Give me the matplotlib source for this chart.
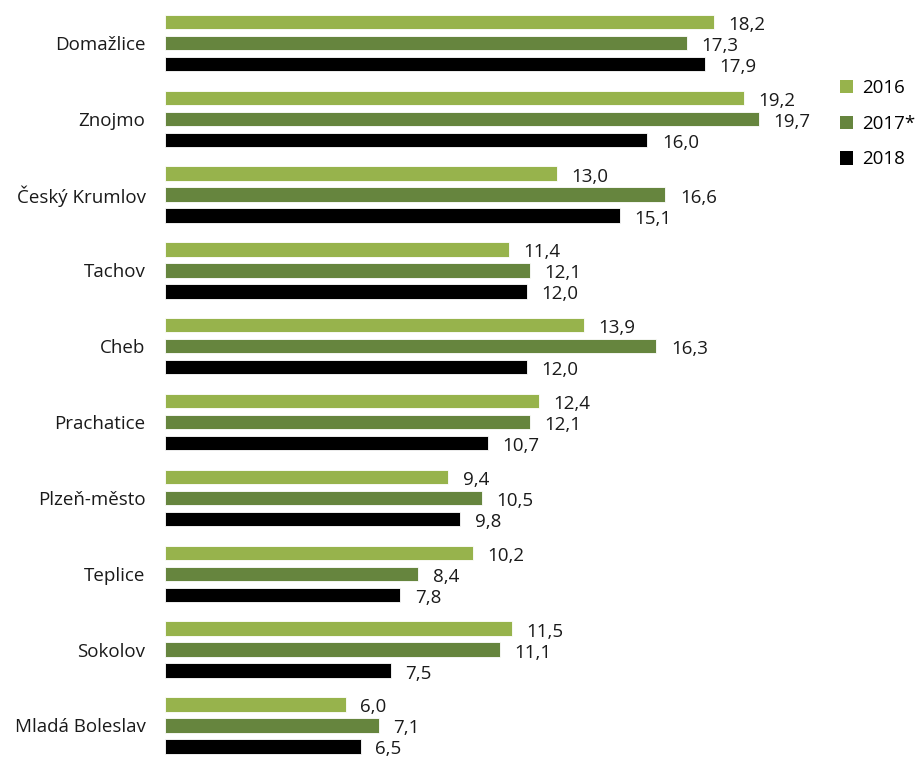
import numpy as np
import matplotlib
matplotlib.use("Agg")
import matplotlib.pyplot as plt
from matplotlib.patches import Patch

# data
districts = ["Domažlice", "Znojmo", "Český Krumlov", "Tachov", "Cheb",
             "Prachatice", "Plzeň-město", "Teplice", "Sokolov", "Mladá Boleslav"]
series_names = ["2016", "2017*", "2018"]
vals_2016 = [18.2, 19.2, 13.0, 11.4, 13.9, 12.4, 9.4, 10.2, 11.5, 6.0]
vals_2017 = [17.3, 19.7, 16.6, 12.1, 16.3, 12.1, 10.5, 8.4, 11.1, 7.1]
vals_2018 = [17.9, 16.0, 15.1, 12.0, 12.0, 10.7, 9.8, 7.8, 7.5, 6.5]
colors = ["#97b34c", "#66853e", "#000000"]

plt.rcParams['font.family'] = ['Open Sans', 'DejaVu Sans']

fig = plt.figure(figsize=(9.15, 7.58), dpi=100)
ax = fig.add_axes([165 / 915, 0.0, 650 / 915, 1.0])

y = np.arange(len(districts))
pitch = 0.277
height = 0.19
for k, (vals, col) in enumerate(zip([vals_2016, vals_2017, vals_2018], colors)):
    pos = y + (k - 1) * pitch
    ax.barh(pos, vals, height=height, color=col, edgecolor="white", linewidth=0.6)
    for p, v in zip(pos, vals):
        ax.text(v + 0.48, p + 0.04, f"{v:.1f}".replace(".", ","), va="center", ha="left",
                fontsize=13.5, color="#1a1a1a")

ax.set_xlim(0, 650 / 30.15)
ax.set_ylim(9.43, -0.567)
ax.set_yticks(y)
ax.set_yticklabels(districts, fontsize=13.5, color="#1a1a1a")
ax.tick_params(axis="y", length=0, pad=14)
ax.set_xticks([])
for s in ax.spines.values():
    s.set_visible(False)

handles = [Patch(facecolor=c, edgecolor="none") for c in colors]
fig.legend(handles, series_names, loc="upper left", bbox_to_anchor=(823 / 915, 1 - 62 / 758),
           frameon=False, fontsize=13.5, handlelength=0.7, handleheight=0.7,
           handletextpad=0.5, labelspacing=0.95)

fig.savefig("out.png", dpi=100)
